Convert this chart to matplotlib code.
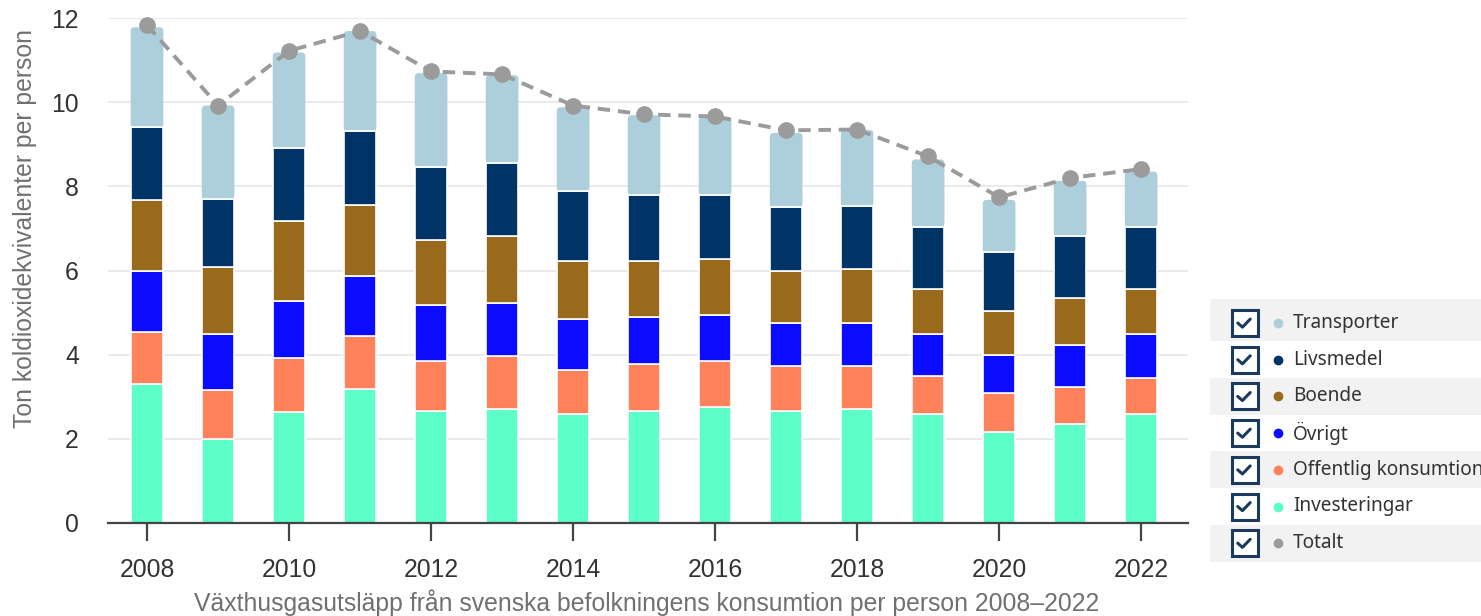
import matplotlib
matplotlib.use("Agg")
import matplotlib.pyplot as plt
from matplotlib.patches import Rectangle, FancyBboxPatch
from matplotlib.lines import Line2D
import numpy as np

years = [2008, 2009, 2010, 2011, 2012, 2013, 2014, 2015, 2016, 2017, 2018, 2019, 2020, 2021, 2022]
investeringar = [3.31, 2.00, 2.63, 3.18, 2.67, 2.72, 2.58, 2.67, 2.76, 2.67, 2.72, 2.58, 2.17, 2.36, 2.58]
offentlig = [1.23, 1.17, 1.28, 1.27, 1.19, 1.24, 1.05, 1.10, 1.10, 1.05, 1.00, 0.92, 0.91, 0.86, 0.86]
ovrigt = [1.45, 1.33, 1.36, 1.41, 1.32, 1.26, 1.22, 1.13, 1.08, 1.04, 1.04, 1.00, 0.91, 1.00, 1.06]
boende = [1.69, 1.58, 1.90, 1.69, 1.55, 1.60, 1.37, 1.32, 1.33, 1.23, 1.27, 1.07, 1.05, 1.13, 1.07]
livsmedel = [1.73, 1.63, 1.73, 1.77, 1.72, 1.73, 1.68, 1.58, 1.53, 1.51, 1.50, 1.47, 1.39, 1.46, 1.47]
transporter = [2.37, 2.21, 2.28, 2.37, 2.24, 2.09, 1.98, 1.89, 1.85, 1.77, 1.81, 1.60, 1.25, 1.32, 1.31]
totalt = [11.83, 9.92, 11.22, 11.69, 10.73, 10.66, 9.92, 9.71, 9.66, 9.33, 9.35, 8.71, 7.74, 8.20, 8.41]

series_names = ["Investeringar", "Offentlig konsumtion", "Övrigt", "Boende", "Livsmedel", "Transporter"]
series_values = [investeringar, offentlig, ovrigt, boende, livsmedel, transporter]
series_colors = ["#5dffc8", "#ff825b", "#0b0bff", "#996a1b", "#003366", "#adcfdb"]
total_color = "#9b9b9b"

legend_names = ["Transporter", "Livsmedel", "Boende", "Övrigt", "Offentlig konsumtion", "Investeringar", "Totalt"]
legend_colors = ["#adcfdb", "#003366", "#996a1b", "#0b0bff", "#ff825b", "#5dffc8", "#9b9b9b"]

xticks = [2008, 2010, 2012, 2014, 2016, 2018, 2020, 2022]
yticks = [0, 2, 4, 6, 8, 10, 12]

W, H = 1481, 616
fig = plt.figure(figsize=(W / 100, H / 100), dpi=100)
fig.patch.set_facecolor("white")
plt.rcParams["font.family"] = ["Liberation Sans", "DejaVu Sans"]

ax = fig.add_axes([108 / W, (H - 523) / H, (1188 - 108) / W, (523 - 18) / H])
ax.set_xlim(2007.45, 2022.66)
ax.set_ylim(0, 12)

# pixel scale of the data axes, for rounding of the top segment corners
bbox = ax.get_window_extent()
px_x = bbox.width / (ax.get_xlim()[1] - ax.get_xlim()[0])
px_y = bbox.height / (ax.get_ylim()[1] - ax.get_ylim()[0])
radius_px = 4.0

bottom = np.zeros(len(years))
containers = []
for name, vals, col in zip(series_names, series_values, series_colors):
    c = ax.bar(years, vals, bottom=bottom, width=0.46, color=col, edgecolor="white",
               linewidth=1.2, zorder=2)
    containers.append(c)
    bottom += np.array(vals)

# rounded top corners for the uppermost segment
for rect in containers[-1]:
    x0, y0, w, h = rect.get_x(), rect.get_y(), rect.get_width(), rect.get_height()
    rect.set_visible(False)
    rx = radius_px / px_x
    ry = radius_px / px_y
    rounded = FancyBboxPatch((x0, y0), w, h,
                             boxstyle=f"round,pad=0,rounding_size={rx}",
                             mutation_aspect=ry / rx,
                             facecolor=rect.get_facecolor(), edgecolor="none", zorder=2)
    ax.add_patch(rounded)
    ax.add_patch(Rectangle((x0, y0), w, h - 2 * ry, facecolor=rect.get_facecolor(),
                           edgecolor="none", zorder=2))
    ax.add_patch(Rectangle((x0, y0), w, 0, facecolor="none", edgecolor="white",
                           linewidth=1.2, zorder=2.5))

ax.plot(years, totalt, color=total_color, linestyle=(0, (3.2, 2.0)), linewidth=2.8,
        marker="o", markersize=11, markerfacecolor=total_color, markeredgecolor=total_color,
        zorder=4, clip_on=False)

ax.set_yticks(yticks)
ax.set_xticks(xticks)
ax.set_xticklabels([str(t) for t in xticks])
ax.grid(axis="y", color="#e6e6e6", linewidth=1.2, zorder=0)
ax.set_axisbelow(True)
for s in ["top", "right", "left"]:
    ax.spines[s].set_visible(False)
ax.spines["bottom"].set_color("#444444")
ax.spines["bottom"].set_linewidth(1.6)
ax.spines["bottom"].set_zorder(5)
ax.tick_params(axis="x", length=13, width=1.6, color="#444444", pad=12,
               labelsize=17.8, labelcolor="#333333")
ax.tick_params(axis="y", length=0, pad=21, labelsize=17.8, labelcolor="#333333")

fig.text(25 / W, (H - 228) / H, "Ton koldioxidekvivalenter per person", rotation=90,
         ha="center", va="center", fontsize=17.8, color="#707070")
fig.text(647 / W, (H - 603) / H,
         "Växthusgasutsläpp från svenska befolkningens konsumtion per person 2008–2022",
         ha="center", va="center", fontsize=17.8, color="#707070")

# custom legend (list with checkboxes)
row_h = 36.7
first_center = 323
leg_left = 1210
for i, (name, col) in enumerate(zip(legend_names, legend_colors)):
    cy = first_center + i * row_h
    if i % 2 == 0:
        top = cy - row_h / 2 - (6 if i == 0 else 0)
        bot = cy + row_h / 2
        fig.patches.append(Rectangle((leg_left / W, (H - bot) / H), (W - leg_left) / W,
                                     (bot - top) / H, transform=fig.transFigure,
                                     facecolor="#f2f2f2", edgecolor="none", zorder=1))
    bx0, bx1 = 1231.5, 1257.5
    by0, by1 = cy - 13, cy + 13
    fig.patches.append(Rectangle((bx0 / W, (H - by1) / H), (bx1 - bx0) / W, (by1 - by0) / H,
                                 transform=fig.transFigure, facecolor="white",
                                 edgecolor="#1c3a5e", linewidth=2.2, zorder=2))
    bw, bh = bx1 - bx0, by1 - by0
    cxs = [bx0 + 0.24 * bw, bx0 + 0.42 * bw, bx0 + 0.72 * bw]
    cys = [by0 + 0.50 * bh, by0 + 0.66 * bh, by0 + 0.35 * bh]
    fig.lines.append(Line2D([x / W for x in cxs], [(H - y) / H for y in cys],
                            transform=fig.transFigure, color="#1c3a5e", linewidth=2.2,
                            solid_capstyle="round", solid_joinstyle="round", zorder=3))
    fig.lines.append(Line2D([1277.5 / W], [(H - cy) / H], transform=fig.transFigure,
                            marker="o", markersize=6, color=col, linestyle="none", zorder=3))
    fig.text(1293 / W, (H - cy) / H, name, ha="left", va="center", fontsize=13.7,
             color="#333333", family=["Noto Sans", "DejaVu Sans"], zorder=3)

fig.savefig("out.png", dpi=100)
